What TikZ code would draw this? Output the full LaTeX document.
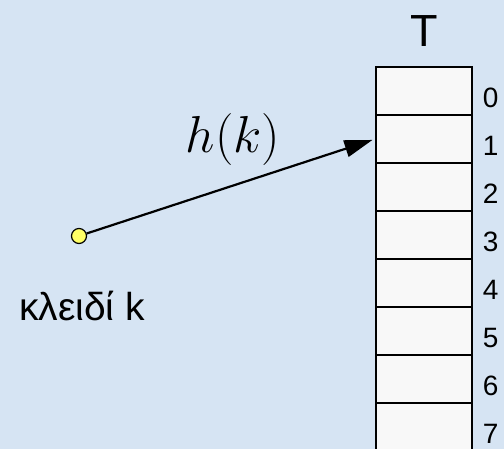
\RequirePackage{fix-cm}
\documentclass[tikz,border=0pt]{standalone}
\usepackage{fontspec}
\setmainfont{Liberation Sans}
\usetikzlibrary{arrows.meta}
\usetikzlibrary{calc}
\usetikzlibrary{positioning}

\definecolor{bgblue}{RGB}{214,228,243}
\definecolor{cellfill}{RGB}{248,248,248}
\definecolor{keyyellow}{RGB}{255,255,102}

\begin{document}
\begin{tikzpicture}[x=1pt,y=-1pt,
    cell/.style={draw, line width=1.3pt, fill=cellfill, minimum width=96pt, minimum height=48pt, inner sep=0pt},
    idx/.style={inner sep=0pt, font=\fontsize{28}{30}\selectfont}]
      % background
      \fill[bgblue] (0,0) rectangle (504,449);
      \useasboundingbox (0,0) rectangle (504,449);

      % table cells and indices
      \foreach \i in {0,...,7} {
        \node[cell] (cell\i) at (424,91+48*\i) {};
        \node[idx, right=10pt of cell\i.east, yshift=-7pt] (idx\i) {\i};
      }

      % table name
      \node[inner sep=0pt, font=\fontsize{45}{48}\selectfont, above=20pt of cell0] (tname) {T};

      % key point
      \node[circle, draw, line width=1.2pt, fill=keyyellow, minimum size=15pt, inner sep=0pt] (key) at (79,236) {};
      \node[inner sep=0pt, font=\fontsize{39}{42}\selectfont, below=47pt of key, xshift=3pt] (keylabel) {κλειδί k};

      % hash arrow
      \draw[line width=2.2pt, -{Triangle[length=28pt,width=17pt]}, shorten >=3pt] (key) -- (cell1.west);
      \node[inner sep=0pt, font=\fontsize{52}{55}\selectfont] (hlabel) at (233,140) {$h(k)$};
    \end{tikzpicture}
\end{document}
